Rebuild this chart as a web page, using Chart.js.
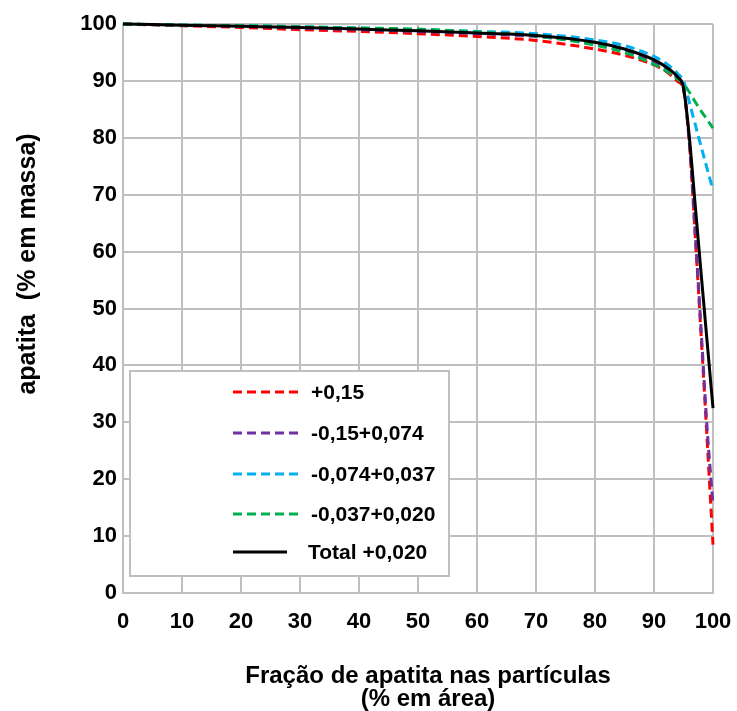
<!DOCTYPE html>
<html>
<head>
<meta charset="utf-8">
<script src="https://cdn.jsdelivr.net/npm/chart.js@4.4.1/dist/chart.umd.min.js"></script>
<style>
  html, body { margin: 0; padding: 0; background: #fff; }
</style>
</head>
<body>
<canvas id="grafico" width="737" height="711"></canvas>
<script>
// fração de apatita nas partículas (% em área)
const fracArea = [0, 10, 20, 30, 40, 50, 60, 70, 80, 85, 90, 92, 93, 94, 95, 96, 97, 98, 99, 100]

// apatita acumulada (% em massa) por faixa granulométrica
const faixa015 = [100, 99.7, 99.4, 99.0, 98.7, 98.3, 97.8, 97.1, 95.6, 94.5, 92.8, 91.7, 90.9, 89.9, 88.5, 79, 62.5, 45, 27, 8.5]
const faixa015_074 = [100, 99.8, 99.6, 99.3, 99.0, 98.7, 98.3, 97.8, 96.5, 95.3, 93.4, 92.3, 91.5, 90.4, 88.6, 79, 63, 46, 29, 15.5]
const faixa074_037 = [100, 99.8, 99.7, 99.5, 99.3, 99.0, 98.7, 98.3, 97.2, 96.2, 94.3, 93.1, 92.3, 91.3, 90, 86.2, 82.3, 78.4, 74.6, 70.8]
const faixa037_020 = [100, 99.8, 99.7, 99.5, 99.3, 99.1, 98.6, 97.9, 96.3, 95.0, 92.9, 91.8, 91.1, 90.3, 89.5, 88, 86.3, 84.7, 83.2, 81.7]
const total020 = [100, 99.8, 99.6, 99.4, 99.1, 98.8, 98.4, 98.0, 96.8, 95.6, 93.7, 92.5, 91.7, 90.7, 88.8, 80, 68, 56, 44.2, 32.5]

const nomes = ['+0,15', '-0,15+0,074', '-0,074+0,037', '-0,037+0,020', 'Total +0,020']
const cores = ['#ff0000', '#7030a0', '#00b0f0', '#00b050', '#000000']
const series = [faixa015, faixa015_074, faixa074_037, faixa037_020, total020]

const fonte = "'Liberation Sans', Arial, sans-serif"
const cinza = '#bfbfbf'

const toPoints = ys => ys.map((y, i) => ({ x: fracArea[i], y: y }))

const datasets = series.map((ys, i) => ({
  label: nomes[i],
  data: toPoints(ys),
  borderColor: cores[i],
  backgroundColor: cores[i],
  borderWidth: 3,
  borderDash: i < 4 ? [9, 5] : [],
  pointRadius: 0,
  cubicInterpolationMode: 'monotone',
  clip: false,
  // black on top, red at the bottom
  order: 4 - i
}))

// legend box sitting inside the plot
const caixaLegenda = {
  id: 'caixaLegenda',
  afterDatasetsDraw(chart) {
    const { ctx, chartArea } = chart
    const bx = chartArea.left + 7
    const by = chartArea.top + 347
    const bw = 319
    const bh = 205
    ctx.save()
    ctx.fillStyle = '#fff'
    ctx.fillRect(bx, by, bw, bh)
    ctx.strokeStyle = cinza
    ctx.lineWidth = 2
    ctx.strokeRect(bx, by, bw, bh)

    const rows = [21, 62, 103, 143, 181]
    ctx.font = 'bold 21px ' + fonte
    ctx.textBaseline = 'middle'
    ctx.fillStyle = '#000'
    chart.data.datasets.forEach((ds, i) => {
      const y = by + rows[i]
      const solid = ds.borderDash.length === 0
      ctx.beginPath()
      ctx.setLineDash(ds.borderDash)
      ctx.strokeStyle = ds.borderColor
      ctx.lineWidth = 3
      ctx.moveTo(bx + 103, y)
      ctx.lineTo(bx + (solid ? 157 : 173), y)
      ctx.stroke()
      ctx.setLineDash([])
      ctx.fillText(ds.label, bx + (solid ? 178 : 181), y + 1)
    })
    ctx.restore()
  }
}

// axis titles
const titulos = {
  id: 'titulos',
  afterDraw(chart) {
    const { ctx } = chart
    ctx.save()
    ctx.fillStyle = '#000'
    ctx.font = 'bold 24px ' + fonte
    ctx.textAlign = 'center'
    ctx.textBaseline = 'alphabetic'
    ctx.fillText('Fração de apatita nas partículas', 428, 683)
    ctx.fillText('(% em área)', 428, 706)

    ctx.font = 'bold 25px ' + fonte
    ctx.translate(35, 264)
    ctx.rotate(-Math.PI / 2)
    ctx.fillText('apatita  (% em massa)', 0, 0)
    ctx.restore()
  }
}

const eixo = {
  type: 'linear',
  min: 0,
  max: 100,
  ticks: {
    stepSize: 10,
    color: '#000',
    font: { family: fonte, size: 22, weight: 'bold' }
  },
  grid: { color: cinza, lineWidth: 2, drawTicks: false },
  border: { color: cinza, width: 2 }
}

new Chart(document.getElementById('grafico'), {
  type: 'line',
  data: { datasets },
  options: {
    responsive: false,
    animation: false,
    layout: { padding: { top: 24, right: 24, left: 0, bottom: 0 } },
    plugins: {
      legend: { display: false },
      tooltip: { enabled: false }
    },
    scales: {
      x: {
        ...eixo,
        ticks: { ...eixo.ticks, padding: 16, maxRotation: 0 },
        afterFit: s => {
          s.height = 118
          s.paddingLeft = 0
          s.paddingRight = 0
        }
      },
      y: {
        ...eixo,
        ticks: { ...eixo.ticks, padding: 6 },
        afterFit: s => {
          s.width = 123
          s.paddingTop = 0
          s.paddingBottom = 0
        }
      }
    }
  },
  plugins: [caixaLegenda, titulos]
})
</script>
</body>
</html>
